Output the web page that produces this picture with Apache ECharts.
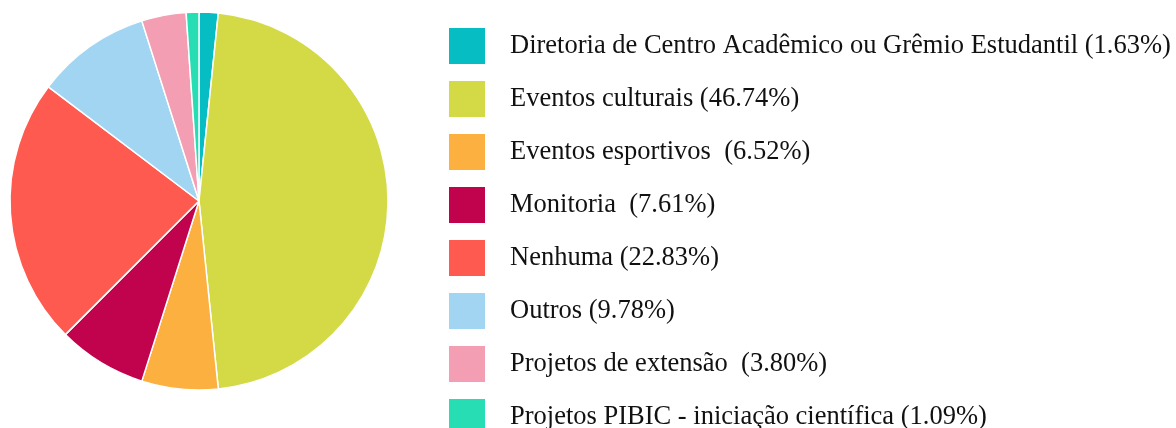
<!DOCTYPE html>
<html>
<head>
<meta charset="utf-8">
<script src="https://cdn.jsdelivr.net/npm/echarts@6/dist/echarts.min.js"></script>
<style>
  html, body { margin: 0; padding: 0; background: #fff; }
  #chart { width: 1176px; height: 428px; }
</style>
</head>
<body>
<div id="chart"></div>
<script>
// answers (counts out of 184)
const categories = [
  'Diretoria de Centro Acadêmico ou Grêmio Estudantil',
  'Eventos culturais',
  'Eventos esportivos ',
  'Monitoria ',
  'Nenhuma',
  'Outros',
  'Projetos de extensão ',
  'Projetos PIBIC - iniciação científica'
];
const counts = [3, 86, 12, 14, 42, 18, 7, 2];
const colors = ['#05bdc2', '#d4da46', '#fbb040', '#c1024c', '#ff5a4f', '#a2d5f2', '#f49eb4', '#27ddb4'];

const total = counts.reduce((a, b) => a + b, 0);
const pieData = categories.map((name, i) => ({ name: name, value: counts[i] }));

const chart = echarts.init(document.getElementById('chart'));
chart.setOption({
  animation: false,
  color: colors,
  legend: {
    orient: 'vertical',
    left: 449,
    top: 28,
    height: 800,
    padding: 0,
    itemWidth: 36,
    itemHeight: 36,
    itemGap: 17,
    icon: 'rect',
    itemStyle: { borderWidth: 0 },
    textStyle: {
      fontFamily: 'Liberation Serif',
      fontSize: 26.5,
      color: '#111',
      padding: [0, 0, 0, 20]
    },
    formatter: function (name) {
      const i = categories.indexOf(name);
      return name + ' (' + (counts[i] / total * 100).toFixed(2) + '%)';
    }
  },
  series: [{
    type: 'pie',
    center: [199, 201],
    radius: [0, 189],
    startAngle: 90,
    clockwise: true,
    label: { show: false },
    labelLine: { show: false },
    itemStyle: { borderColor: '#fff', borderWidth: 1.5 },
    data: pieData
  }]
});
</script>
</body>
</html>
